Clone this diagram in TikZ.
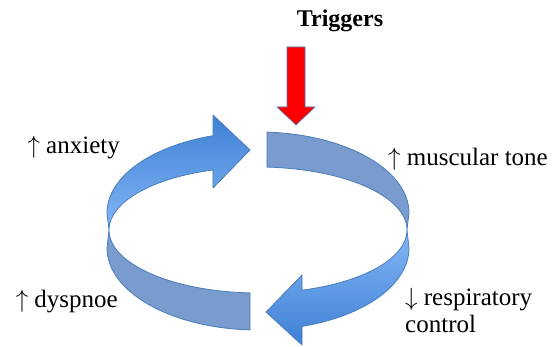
\documentclass[tikz,border=0pt]{standalone}
\usepackage{fontspec}
\setmainfont{Liberation Serif}
\definecolor{edgeblue}{RGB}{74,126,187}
\definecolor{darkband}{RGB}{122,155,206}
\definecolor{bandtop}{RGB}{62,128,212}
\definecolor{bandlight}{RGB}{132,182,246}
\definecolor{trigred}{RGB}{255,0,0}
\begin{document}
\begin{tikzpicture}[x=1pt,y=-1pt,
  band/.style={draw=edgeblue, line width=0.8pt, line join=round},
  flatband/.style={band, fill=darkband},
  lab/.style={inner sep=0pt, font=\fontsize{25}{29}\selectfont, text=black}]
\useasboundingbox (0,0) rectangle (553,347);
% back-right piece (darker)
\draw[flatband] (267,132.1) arc[start angle=273.42, end angle=360, x radius=151, y radius=81]
  -- (407,230) arc[start angle=0, end angle=-86.54, x radius=149, y radius=63] -- cycle;
% front-left piece (darker)
\draw[flatband] (109,230) arc[start angle=180, end angle=93.08, x radius=149, y radius=63]
  -- (250,329.9) arc[start angle=93.04, end angle=180, x radius=151, y radius=82] -- cycle;
% back-left arrow (gradient)
\draw[band, top color=bandtop, bottom color=bandlight]
  (213,135.7) arc[start angle=252.66, end angle=180, x radius=151, y radius=81]
  -- (109,230) arc[start angle=180, end angle=252.4, x radius=149, y radius=63]
  -- (213,188) -- (250,150) -- (213,115) -- cycle;
% front-right arrow (gradient)
\draw[band, top color=bandlight, bottom color=bandtop]
  (407,230) arc[start angle=0, end angle=72.82, x radius=149, y radius=63]
  -- (302,275) -- (266,312) -- (302,345) -- (302,326.4)
  arc[start angle=73.06, end angle=0, x radius=151, y radius=82] -- cycle;
% red trigger arrow
\draw[fill=trigred, draw=edgeblue, line width=0.6pt, line join=miter]
  (287,47) -- (305,47) -- (305,107) -- (315,107) -- (296,125) -- (277,107) -- (287,107) -- cycle;
% labels
\node[lab, font=\fontsize{24}{28}\selectfont\bfseries, anchor=base] (trig) at (340,27) {Triggers};
\node[lab, anchor=base east] (anx) at (120,154) {$\uparrow$ anxiety};
\node[lab, anchor=base east] (dys) at (118,307) {$\uparrow$ dyspnoe};
\node[lab, anchor=base west] (mus) at (388,166) {$\uparrow$ muscular tone};
\node[lab, anchor=base west] (resp) at (405,305) {$\downarrow$ respiratory};
\node[lab, anchor=base west] (ctrl) at (405,332) {control};
\end{tikzpicture}
\end{document}
